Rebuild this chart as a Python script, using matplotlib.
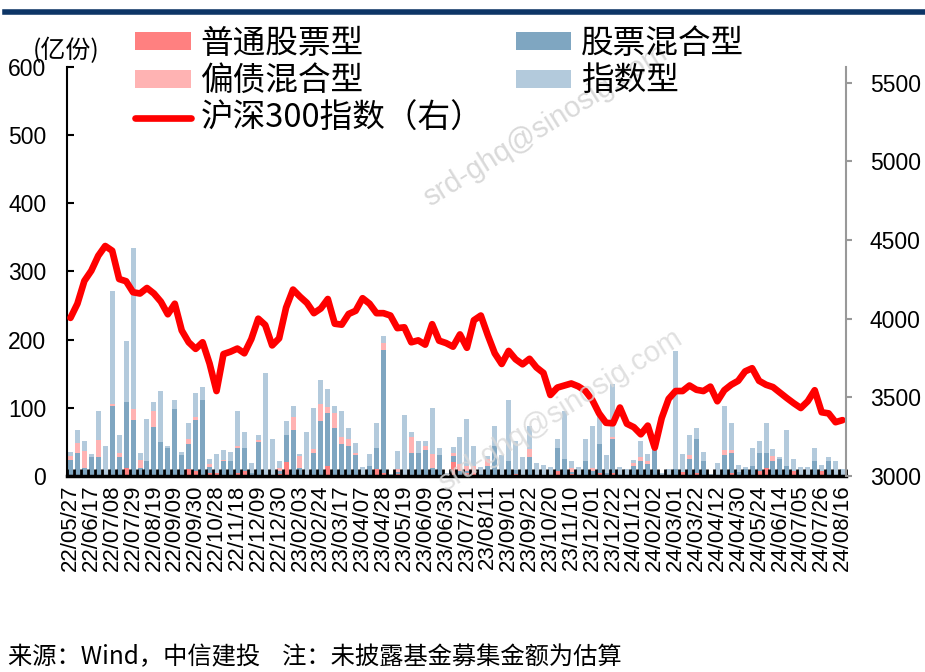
import numpy as np
import matplotlib
matplotlib.use('Agg')
import matplotlib.pyplot as plt
from matplotlib.lines import Line2D

plt.rcParams['font.family'] = ['Liberation Sans', 'Noto Sans CJK SC', 'DejaVu Sans']

# weekly tick labels (every 3rd bar)
tick_labels = ['22/05/27', '22/06/17', '22/07/08', '22/07/29', '22/08/19', '22/09/09', '22/09/30',
               '22/10/28', '22/11/18', '22/12/09', '22/12/30', '23/02/03', '23/02/24', '23/03/17',
               '23/04/07', '23/04/28', '23/05/19', '23/06/09', '23/06/30', '23/07/21', '23/08/11',
               '23/09/01', '23/09/22', '23/10/20', '23/11/10', '23/12/01', '23/12/22', '24/01/12',
               '24/02/02', '24/03/01', '24/03/22', '24/04/12', '24/04/30', '24/05/24', '24/06/14',
               '24/07/05', '24/07/26', '24/08/16']

# 亿份
stock_fund = [0, 0, 0, 0, 0, 0, 0, 0, 12, 0, 0, 0, 0, 0, 0, 0, 0, 10, 8, 0, 5, 5, 0, 0,
              4, 8, 0, 0, 0, 0, 3, 20, 0, 0, 0, 0, 0, 15, 0, 0, 0, 0, 0, 0, 10, 4, 0, 3, 0, 0, 0, 0,
              0, 0, 0, 20, 0, 5, 3, 0, 0, 0, 0, 0, 3, 0, 0, 0, 0, 0, 8, 0, 3, 0, 0, 0, 4, 0, 4, 0,
              0, 0, 0, 0, 0, 0, 0, 0, 6, 0, 4, 0, 0, 0, 0, 4, 0, 0, 0, 8, 11, 0, 0, 0, 8, 0, 0, 0, 8, 0, 0, 0]
mixed_stock = [24, 34, 11, 28, 28, 0, 102, 28, 96, 82, 12, 22, 72, 50, 41, 98, 31, 37, 74, 112, 8, 0, 22, 22,
               37, 33, 4, 50, 0, 0, 5, 40, 67, 12, 0, 34, 80, 77, 70, 47, 44, 31, 0, 15, 31, 181, 0, 3, 0, 34, 34, 38,
               12, 31, 0, 10, 8, 3, 0, 3, 15, 44, 0, 22, 6, 0, 28, 0, 0, 0, 33, 25, 3, 0, 22, 8, 43, 5, 50, 0,
               0, 15, 22, 18, 38, 0, 0, 10, 0, 25, 50, 22, 0, 0, 31, 30, 6, 10, 15, 26, 23, 22, 25, 15, 0, 0, 0, 22, 0, 22, 0, 0]
bond_mixed = [6, 14, 26, 0, 25, 0, 4, 6, 0, 16, 12, 0, 23, 0, 0, 0, 0, 7, 4, 0, 4, 0, 2, 0,
              3, 0, 0, 3, 0, 0, 4, 0, 20, 17, 0, 6, 26, 9, 22, 10, 10, 3, 0, 0, 0, 10, 0, 4, 0, 23, 0, 6,
              20, 0, 0, 3, 10, 7, 12, 0, 10, 0, 0, 0, 0, 0, 12, 0, 0, 0, 0, 0, 6, 0, 0, 3, 0, 0, 3, 0,
              0, 4, 6, 4, 0, 0, 0, 0, 0, 6, 0, 0, 0, 0, 7, 4, 0, 0, 0, 0, 0, 8, 0, 0, 0, 0, 0, 0, 0, 0, 0, 0]
index_fund = [5, 19, 14, 4, 42, 44, 166, 26, 90, 236, 10, 61, 13, 75, 3, 13, 4, 23, 36, 19, 8, 27, 14, 13,
              52, 24, 15, 7, 151, 54, 10, 20, 16, 3, 65, 59, 35, 26, 11, 39, 16, 14, 13, 17, 36, 10, 3, 26, 90, 8, 18, 8,
              68, 10, 5, 10, 39, 68, 29, 10, 4, 30, 31, 90, 43, 28, 34, 19, 16, 13, 13, 71, 10, 13, 32, 62, 43, 26, 78, 13,
              10, 4, 24, 10, 5, 5, 10, 173, 26, 29, 16, 13, 3, 19, 65, 39, 10, 3, 26, 18, 43, 10, 3, 52, 17, 13, 13, 19, 8, 6, 22, 10]
csi300 = [4005, 4095, 4240, 4305, 4400, 4462, 4432, 4252, 4238, 4168, 4160, 4195, 4160, 4108, 4028, 4095,
          3925, 3850, 3808, 3850, 3715, 3540, 3775, 3790, 3810, 3780, 3870, 4000, 3960, 3830, 3875, 4070,
          4185, 4140, 4100, 4035, 4065, 4125, 3968, 3962, 4030, 4050, 4130, 4095, 4035, 4035, 4020, 3940,
          3945, 3850, 3862, 3835, 3965, 3860, 3845, 3822, 3900, 3815, 3990, 4020, 3895, 3780, 3712, 3795,
          3742, 3710, 3745, 3690, 3655, 3515, 3562, 3575, 3588, 3570, 3542, 3485, 3398, 3338, 3335, 3435,
          3332, 3310, 3265, 3320, 3180, 3368, 3490, 3540, 3540, 3575, 3548, 3540, 3568, 3475, 3545, 3580,
          3605, 3665, 3685, 3605, 3580, 3565, 3530, 3495, 3462, 3432, 3475, 3545, 3405, 3398, 3342, 3355]

c_stock = '#ff8080'
c_bond = '#ffb3b3'
c_mixed = '#7fa6c1'
c_index = '#b3cadc'

cjk = 'Noto Sans CJK SC'

x = np.arange(len(csi300))
s1 = np.array(stock_fund)
s2 = s1 + np.array(mixed_stock)
s3 = s2 + np.array(bond_mixed)

fig = plt.figure(figsize=(9.25, 6.72), dpi=100)
ax = fig.add_axes([0.0724, 0.2917, 0.9146 - 0.0724, 0.9003 - 0.2917])

w = 0.72
b1 = ax.bar(x, stock_fund, width=w, color=c_stock, edgecolor='none')
b2 = ax.bar(x, mixed_stock, width=w, bottom=s1, color=c_mixed, edgecolor='none')
b3 = ax.bar(x, bond_mixed, width=w, bottom=s2, color=c_bond, edgecolor='none')
b4 = ax.bar(x, index_fund, width=w, bottom=s3, color=c_index, edgecolor='none')

ax.set_xlim(-0.5, len(x) - 0.5)
ax.set_ylim(0, 600)
ax.set_yticks(np.arange(0, 601, 100))
ax.tick_params(axis='y', direction='in', length=5, width=1.5, pad=15, labelsize=16.5)
ax.set_xticks(x[::3])
ax.set_xticklabels(tick_labels, rotation=90, fontsize=16)
ax.tick_params(axis='x', which='major', length=0, pad=6)
ax.set_xticks(np.arange(-0.5, len(x), 1), minor=True)
ax.tick_params(axis='x', which='minor', direction='in', length=5, width=2, color='black')
for s in ['top', 'right']:
    ax.spines[s].set_visible(False)
ax.spines['left'].set_linewidth(1.5)
ax.spines['bottom'].set_linewidth(2.5)

ax2 = ax.twinx()
ln, = ax2.plot(x, csi300, color='#ff0000', lw=4.8, solid_joinstyle='round', solid_capstyle='round')
ax2.set_ylim(3000, 5600)
ax2.set_yticks(np.arange(3000, 5501, 500))
ax2.tick_params(axis='y', direction='out', length=4, width=1.5, color='#999999', pad=13, labelsize=16.5)
for s in ['top', 'left', 'bottom']:
    ax2.spines[s].set_visible(False)
ax2.spines['right'].set_color('#999999')
ax2.spines['right'].set_linewidth(1.5)

fig.legend([b1, b3, ln, b2, b4],
           ['普通股票型', '偏债混合型', '沪深300指数（右）', '股票混合型', '指数型'],
           ncol=2, loc='upper left', bbox_to_anchor=(0.146, 0.959), frameon=False,
           prop={'family': cjk, 'size': 23.5}, handlelength=1.7, handleheight=0.5,
           handletextpad=0.3, labelspacing=0.18, columnspacing=1.0, borderpad=0, borderaxespad=0)

fig.text(0.035, 0.924, '(亿份)', fontsize=18, family=cjk, va='center')

fig.add_artist(Line2D([0.005, 1.0], [1 - 12 / 672, 1 - 12 / 672], color='#0d3566', lw=4))

fig.text(545 / 925, 1 - 125 / 672, 'srd-ghq@sinosig.com', rotation=32, color='#d9d9d9',
         fontsize=21, ha='center', va='center')
fig.text(560 / 925, 1 - 410 / 672, 'srd-ghq@sinosig.com', rotation=32, color='#d9d9d9',
         fontsize=21, ha='center', va='center', alpha=0.8)

fig.text(8 / 925, 1 - 657 / 672, '来源：Wind，中信建投    注：未披露基金募集金额为估算',
         fontsize=17.5, family=[cjk, 'DejaVu Sans'], va='center')

fig.savefig('out.png', dpi=100)
